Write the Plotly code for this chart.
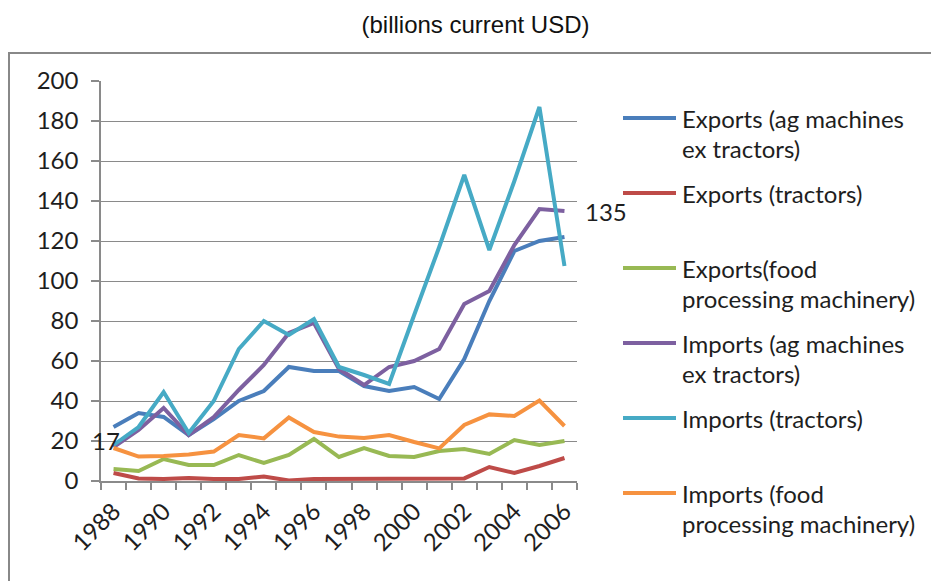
import plotly.graph_objects as go

# Agricultural machinery trade, billions of current USD
years = list(range(1988, 2007))
exports_ag_machines = [27, 34, 32, 23, 31, 40, 45, 57, 55, 55, 47.5, 45, 47, 41, 61, 90, 115, 120, 122]
exports_tractors = [4, 1.3, 1, 1.5, 1, 1, 2.2, 0.3, 1, 1, 1, 1.2, 1, 1.3, 1.3, 7, 4, 7.5, 11.5]
exports_food_proc = [6, 5, 11, 8, 8, 13, 9, 13, 21, 12, 16.5, 12.5, 12, 15, 16, 13.5, 20.5, 18, 20]
imports_ag_machines = [17, 25.5, 36.5, 23, 32, 45.5, 58, 74, 79, 56, 48, 57, 60, 66, 88.5, 95, 118, 136, 135]
imports_tractors = [18, 27, 44.5, 24, 40, 66, 80, 73, 81, 57, 53, 48.5, 83, 117, 153, 115.5, 150, 187, 107.5]
imports_food_proc = [16.5, 12.2, 12.5, 13.2, 14.7, 23, 21.3, 31.8, 24.5, 22.2, 21.5, 23, 19.5, 16.3, 28, 33.3, 32.5, 40.2, 27.5]

series_names = [
    "Exports (ag machines<br>ex tractors)",
    "Exports (tractors)",
    "Exports(food<br>processing machinery)",
    "Imports (ag machines<br>ex tractors)",
    "Imports (tractors)",
    "Imports (food<br>processing machinery)",
]
series_values = [
    exports_ag_machines, exports_tractors, exports_food_proc,
    imports_ag_machines, imports_tractors, imports_food_proc,
]
series_colors = ["#4A7EBB", "#BE4B48", "#98B954", "#7D60A0", "#46AAC5", "#F69240"]

year_tick_labels = [str(y) for y in range(1988, 2007, 2)]

TEXT_FONT = "Lato, 'Open Sans', sans-serif"
TEXT_SIZE = 24
TEXT_COLOR = "#1e1e1e"
GRID_COLOR = "#8a8a8a"

# figure and plot-area geometry (pixels)
W, H = 931, 581
PLOT_L, PLOT_R, PLOT_T, PLOT_B = 101, 577, 81, 481


def px_x(px):
    return (px - PLOT_L) / (PLOT_R - PLOT_L)


def px_y(py):
    return (PLOT_B - py) / (PLOT_B - PLOT_T)


fig = go.Figure()
for name, vals, color in zip(series_names, series_values, series_colors):
    fig.add_trace(go.Scatter(
        x=years, y=vals, mode="lines",
        name=name.replace("<br>", " "),
        line=dict(color=color, width=4),
        showlegend=False,
        hovertemplate="%{x}: %{y}<extra>" + name.replace("<br>", " ") + "</extra>",
    ))

# value labels on the first and last import (ag machines) points
fig.add_annotation(x=years[0], y=imports_ag_machines[0], xref="x", yref="y",
                   text=f"{imports_ag_machines[0]:.0f}", showarrow=False,
                   xanchor="right", yanchor="middle", xshift=8, yshift=7,
                   font=dict(family=TEXT_FONT, size=TEXT_SIZE, color=TEXT_COLOR))
fig.add_annotation(x=years[-1], y=imports_ag_machines[-1], xref="x", yref="y",
                   text=f"{imports_ag_machines[-1]:.0f}", showarrow=False,
                   xanchor="left", yanchor="middle", xshift=19,
                   font=dict(family=TEXT_FONT, size=TEXT_SIZE, color=TEXT_COLOR))

# legend: colour key plus label lines, one block per series
LEG_KEY_X0, LEG_KEY_X1, LEG_TEXT_X = 623, 676, 680
LEG_TOP, LEG_STEP, LEG_LINE_H = 118, 75, 30
for i, (name, color) in enumerate(zip(series_names, series_colors)):
    yk = LEG_TOP + i * LEG_STEP
    fig.add_shape(type="line", xref="paper", yref="paper",
                  x0=px_x(LEG_KEY_X0), x1=px_x(LEG_KEY_X1), y0=px_y(yk), y1=px_y(yk),
                  line=dict(color=color, width=4))
    for k, part in enumerate(name.split("<br>")):
        fig.add_annotation(x=px_x(LEG_TEXT_X), y=px_y(yk + k * LEG_LINE_H),
                           xref="paper", yref="paper", text=part, showarrow=False,
                           xanchor="left", yanchor="middle",
                           font=dict(family=TEXT_FONT, size=TEXT_SIZE, color=TEXT_COLOR))

# outer chart frame
fig.add_shape(type="rect", xref="paper", yref="paper",
              x0=px_x(9), x1=px_x(945), y0=px_y(600), y1=px_y(53),
              line=dict(color="#888888", width=2), fillcolor="rgba(0,0,0,0)")

fig.update_layout(
    width=W, height=H,
    margin=dict(l=PLOT_L, r=W - PLOT_R, t=PLOT_T, b=H - PLOT_B, pad=0),
    paper_bgcolor="white", plot_bgcolor="white",
    title=dict(text="(billions current USD)", x=475.5 / W, xref="container",
               xanchor="center", y=1 - 25 / H, yref="container", yanchor="middle",
               font=dict(family="'Liberation Sans', Arial, sans-serif", size=24, color="#111111")),
    showlegend=False,
)

fig.update_xaxes(
    range=[years[0] - 0.5, years[-1] + 0.5],
    tickmode="array", tickvals=list(range(1988, 2007, 2)), ticktext=year_tick_labels,
    tickangle=-45, ticks="outside", ticklen=0, ticklabelstandoff=5,
    tickfont=dict(family=TEXT_FONT, size=TEXT_SIZE, color=TEXT_COLOR),
    showgrid=False, zeroline=False,
    showline=True, linecolor=GRID_COLOR, linewidth=1.5,
    minor=dict(tickmode="array", tickvals=[y - 0.5 for y in years] + [years[-1] + 0.5],
               ticks="outside", ticklen=7, tickcolor=GRID_COLOR, tickwidth=1.5, showgrid=False),
)
fig.update_yaxes(
    range=[0, 200], tickmode="linear", tick0=0, dtick=20,
    ticks="outside", ticklen=8, tickcolor=GRID_COLOR, tickwidth=1.5, ticklabelstandoff=8,
    tickfont=dict(family=TEXT_FONT, size=TEXT_SIZE, color=TEXT_COLOR),
    showgrid=True, gridcolor=GRID_COLOR, gridwidth=1.2, zeroline=False,
    showline=True, linecolor=GRID_COLOR, linewidth=1.5,
)

fig.write_html("out.html")
